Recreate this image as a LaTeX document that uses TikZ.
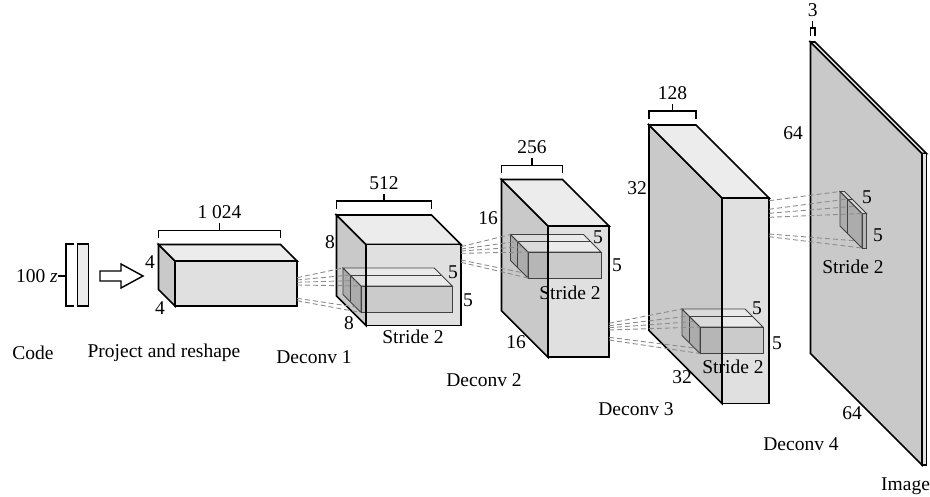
\documentclass[tikz,border=0pt]{standalone}
\usepackage{fontspec}
\setmainfont{Liberation Serif}
\usetikzlibrary{calc}

% feature map: name, x, y of the front top-left corner, width, height, depth
\newcommand{\fmap}[6]{%
  \filldraw[sideface] ({#2-#6},{#3-#6}) -- (#2,#3) -- (#2,{#3+#5}) -- ({#2-#6},{#3+#5-#6}) -- cycle;
  \filldraw[topface] ({#2-#6},{#3-#6}) -- ({#2+#4-#6},{#3-#6}) -- ({#2+#4},#3) -- (#2,#3) -- cycle;
  \filldraw[frontface] (#2,#3) rectangle ({#2+#4},{#3+#5});
  \coordinate (#1-btl) at ({#2-#6},{#3-#6});
  \coordinate (#1-btr) at ({#2+#4-#6},{#3-#6});
  \coordinate (#1-ftl) at (#2,#3);
  \coordinate (#1-fbl) at (#2,{#3+#5});
  \coordinate (#1-ftr) at ({#2+#4},#3);
}
% kernel: name, x, y of the front top-left corner, width, height, depth, cut
\newcommand{\filt}[7]{%
  \filldraw[kside] ({#2-#6},{#3-#6}) -- (#2,#3) -- (#2,{#3+#5}) -- ({#2-#6},{#3+#5-#6}) -- cycle;
  \filldraw[ktop] ({#2-#6},{#3-#6}) -- ({#2+#4-#6},{#3-#6}) -- ({#2+#4},#3) -- (#2,#3) -- cycle;
  \filldraw[kfront] (#2,#3) rectangle ({#2+#4},{#3+#5});
  \coordinate (#1-btl) at ({#2-#6},{#3-#6});
  \coordinate (#1-stl) at ({#2-#6+#7},{#3-#6+#7});
  \coordinate (#1-fm) at ({#2-(#6-#7)/2},{#3-(#6-#7)/2});
  \coordinate (#1-ftl) at (#2,#3);
  \coordinate (#1-bm) at ({#2-(#6-#7)/2},{#3+#5-(#6-#7)/2});
  \coordinate (#1-fbl) at (#2,{#3+#5});
  \draw[kline] (#1-stl) -- ++(0,#5) (#1-stl) -- ++(#4,0);
}
% dashed fan from a map to the next kernel
\newcommand{\fan}[3]{%
  \foreach \dy/\tgt [count=\i] in {#3} {
    \coordinate (#1-s\i) at ($(#1-ftr)+(0,\dy)$);
    \draw[fanline] (#1-s\i) -- (#2-\tgt);
  }
}
% bracket over the top face
\newcommand{\topbrace}[2]{%
  \draw[brace] ($(#1-btl)+(0,-6)$) -- ($(#1-btl)+(0,-14)$) -- ($(#1-btr)+(0,-14)$) -- ($(#1-btr)+(0,-6)$);
  \draw[brace] ($(#1-btl)!0.5!(#1-btr)+(0,-14)$) -- ++(0,-7) node[lbl,above=4pt] (#1-size) {#2};
}

\begin{document}
\begin{tikzpicture}[x=1pt,y=-1pt,
    lbl/.style={font=\fontsize{19.5}{23}\selectfont,inner sep=0pt},
    mapedge/.style={draw=black,line width=1.6pt},
    frontface/.style={mapedge,fill=gray!24},
    sideface/.style={mapedge,fill=gray!42},
    topface/.style={mapedge,fill=gray!15},
    kline/.style={draw=gray!50!black,line width=0.8pt},
    kfront/.style={kline,fill=black,fill opacity=0.09},
    kside/.style={kline,fill=black,fill opacity=0.14},
    ktop/.style={kline,fill=white,fill opacity=0.35},
    fanline/.style={draw=gray!90,line width=0.9pt,dash pattern=on 5pt off 3pt},
    brace/.style={draw=black,line width=1.3pt}
  ]
  \useasboundingbox (0,0) rectangle (930,497);

  % code vector
  \filldraw[brace,fill=gray!15] (77.5,244) rectangle (88.5,306);
  \draw[brace] (74,244) -- (66,244) -- (66,306) -- (74,306);
  \coordinate (codetick) at (66,276);
  \node[lbl,anchor=east] (code) at (58,276) {100 \textit{z}};
  \draw[brace] (codetick) -- (code.east);
  \draw[brace,line width=1.4pt,fill=white] (100,271) -- (121,271) -- (121,264) -- (143,276)
    -- (121,288) -- (121,281) -- (100,281) -- cycle;

  % feature maps and kernels
  \fmap{proj}{175}{261}{122}{45}{16.5}
  \fmap{dca}{366}{244.5}{95}{81}{29.5}
  \filt{ka}{361}{286}{91.3}{26.5}{18}{7}
  \draw[mapedge] (dca-ftl) -- (dca-fbl);
  \fmap{dcb}{548}{226}{61}{131.3}{46.5}
  \filt{kb}{528}{252}{73}{26}{17.5}{7}
  \draw[mapedge] (dcb-ftl) -- (dcb-fbl);
  \fmap{dcc}{722}{198}{47}{205.5}{73}
  \filt{kc}{700}{327}{63}{26.5}{18}{7}
  \draw[mapedge] (dcc-ftl) -- (dcc-fbl);
  \fmap{img}{922}{153.5}{4.5}{311.5}{111.5}
  \filt{kd}{862}{213.5}{4.5}{34.5}{22}{7.5}

  \fan{proj}{ka}{16.7/btl,19/stl,21.3/fm,24/ftl,37.3/bm,39.7/fbl}
  \fan{dca}{kb}{2.2/btl,4.5/stl,6.5/fm,8.8/ftl,15.5/bm,17.8/fbl}
  \fan{dcb}{kc}{97.3/btl,99.7/stl,101.7/fm,104/ftl,111.3/bm,114/fbl}
  \fan{dcc}{kd}{2.7/btl,11.3/stl,15.3/fm,19.3/ftl,36/bm,38.7/fbl}

  % sizes
  \topbrace{proj}{1 024}
  \topbrace{dca}{512}
  \topbrace{dcb}{256}
  \topbrace{dcc}{128}
  \topbrace{img}{3}

  \node[lbl] (proj-h) at (150,262) {4};
  \node[lbl] (proj-w) at (160,308) {4};
  \node[lbl] (dca-h) at (330,242) {8};
  \node[lbl] (dca-w) at (349,323) {8};
  \node[lbl] (dcb-h) at (488,218) {16};
  \node[lbl] (dcb-w) at (516,342) {16};
  \node[lbl] (dcc-h) at (637,188) {32};
  \node[lbl] (dcc-w) at (682,377) {32};
  \node[lbl] (img-h) at (793,133) {64};
  \node[lbl] (img-w) at (852,413) {64};

  \node[lbl] (ka-h) at (453,272) {5};
  \node[lbl] (ka-w) at (468,300) {5};
  \node[lbl] (ka-s) at (413,337) {Stride 2};
  \node[lbl] (kb-h) at (598,237) {5};
  \node[lbl] (kb-w) at (617,265) {5};
  \node[lbl] (kb-s) at (570,293) {Stride 2};
  \node[lbl] (kc-h) at (757,308) {5};
  \node[lbl] (kc-w) at (777,343) {5};
  \node[lbl] (kc-s) at (733,367) {Stride 2};
  \node[lbl] (kd-h) at (867,197) {5};
  \node[lbl] (kd-w) at (878,235) {5};
  \node[lbl] (kd-s) at (853,267) {Stride 2};

  % captions
  \node[lbl] (cap-code) at (33,353) {Code};
  \node[lbl] (cap-proj) at (164,353) {Project and reshape};
  \node[lbl] (cap-dca) at (314,357) {Deconv 1};
  \node[lbl] (cap-dcb) at (484,380) {Deconv 2};
  \node[lbl] (cap-dcc) at (636,409) {Deconv 3};
  \node[lbl] (cap-dcd) at (801,444) {Deconv 4};
  \node[lbl,anchor=west] (cap-img) at (881,486) {Image};
\end{tikzpicture}
\end{document}
